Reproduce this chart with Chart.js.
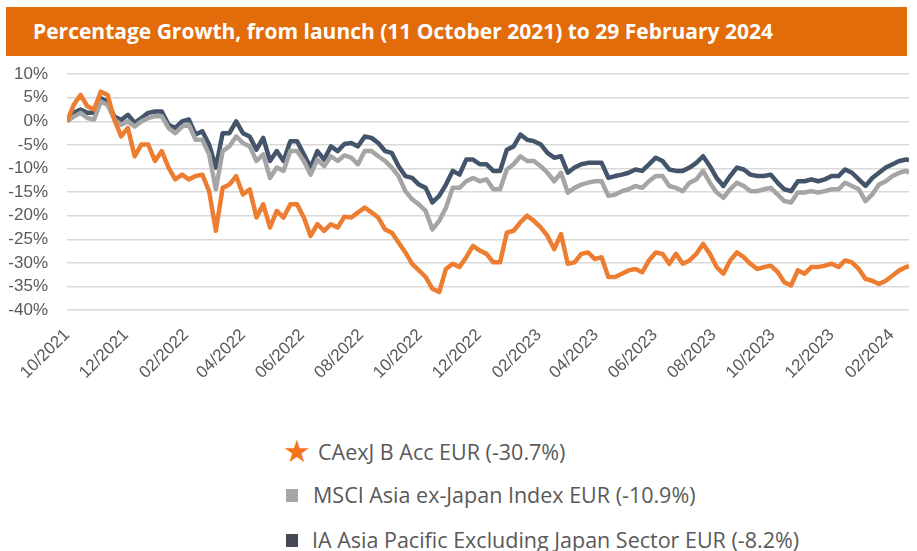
<!DOCTYPE html>
<html>
<head>
<meta charset="utf-8">
<script src="https://cdn.jsdelivr.net/npm/chart.js@4.4.1/dist/chart.umd.min.js"></script>
<style>
  body { margin: 0; background: #fff; width: 917px; height: 551px; position: relative; overflow: hidden; }
  #title {
    position: absolute; left: 6px; top: 7px; width: 901px; height: 49px;
    background: #E36C0A; color: #fff;
    font-family: "Open Sans", sans-serif; font-weight: 700; font-size: 21px;
    line-height: 48px; padding-left: 27px; box-sizing: border-box; white-space: nowrap;
  }
  #wrap { position: absolute; left: 0; top: 45px; width: 917px; height: 340px; }
  .leg {
    position: absolute; font-family: "Open Sans", sans-serif; font-size: 21.5px; color: #595959;
    white-space: nowrap; line-height: 28px;
  }
  .sq { position: absolute; width: 12px; height: 13px; }
  .star { position: absolute; color: #F5761A; font-size: 31px; line-height: 31px; }
</style>
</head>
<body>
<div id="title">Percentage Growth, from launch (11 October 2021) to 29 February 2024</div>
<div id="wrap"><canvas id="growthChart"></canvas></div>

<div class="star" style="left:283px; top:436px;">&#9733;</div>
<div class="leg" style="left:318px; top:438px;">CAexJ B Acc EUR (-30.7%)</div>
<div class="sq" style="left:286px; top:489px; background:#A6A6A6;"></div>
<div class="leg" style="left:313px; top:481px;">MSCI Asia ex-Japan Index EUR (-10.9%)</div>
<div class="sq" style="left:286px; top:534px; background:#454A54;"></div>
<div class="leg" style="left:312px; top:526px;">IA Asia Pacific Excluding Japan Sector EUR (-8.2%)</div>

<script>
// weekly readings from launch (11/10/2021), last point is 29/02/2024
const launch = Date.UTC(2021, 9, 11);
const lastDay = 871;

const fundValues = [
  0, 3.5, 5.6, 3.2, 2.5, 6.3, 5.6, 0.4, -3.2, -1.4,
  -7.4, -4.9, -4.9, -8.4, -6.3, -9.8, -12.3, -11.3, -12.3, -11.6,
  -11.3, -14.8, -23.2, -14.1, -13.4, -11.6, -15.5, -14.4, -20.4, -17.6,
  -22.5, -19, -20.4, -17.6, -17.6, -20.4, -24.3, -21.8, -23.2, -21.8,
  -22.5, -20.2, -20.4, -19.3, -18.3, -19.3, -20.4, -22.9, -23.6, -25.7,
  -27.8, -30.2, -31.6, -33, -35.5, -36.2, -31.3, -30.2, -30.9, -28.8,
  -26.4, -27.4, -28.1, -29.9, -29.9, -23.6, -23.2, -21.4, -20.0, -21.1,
  -22.5, -24.3, -27.1, -23.9, -30.2, -29.9, -28.1, -27.8, -29.2, -28.8,
  -33, -33, -32.3, -31.6, -31.3, -32, -29.5, -27.8, -28.1, -30.2,
  -28.1, -30.2, -29.5, -28.1, -26, -28.1, -30.9, -32.3, -29.5, -27.8,
  -28.8, -30.2, -31.3, -30.9, -30.6, -31.9, -34.1, -34.8, -31.6, -32.3,
  -30.9, -30.9, -30.6, -30.2, -30.9, -29.5, -29.9, -31.3, -33.4, -33.8,
  -34.5, -33.8, -32.7, -31.6, -30.9, -30.7
];

const msciValues = [
  0, 1.0, 1.8, 0.7, 0.4, 4.2, 3.5, 0.4, -0.7, 0,
  -1.1, 0, 0.7, 1.1, 1.1, -1.4, -2.5, -1.1, -0.7, -3.9,
  -3.9, -7, -14.4, -6.3, -5.3, -3.2, -4.6, -5.3, -8.4, -7,
  -12, -9.8, -10.5, -6.3, -6.3, -8.4, -11.3, -8.1, -9.5, -7.4,
  -8.4, -7.2, -7.7, -9.1, -6.3, -6.3, -7.4, -8.4, -9.8, -11.6,
  -14.8, -16.5, -17.6, -19, -22.9, -21.1, -18.3, -14.1, -14.1, -12.7,
  -12, -12.7, -12.3, -14.4, -14.4, -10.2, -9.1, -7.4, -8.4, -8.4,
  -9.5, -10.9, -12.7, -10.9, -15.1, -14.1, -13.4, -13, -12.7, -12.7,
  -15.8, -15.5, -14.8, -14.4, -13.7, -14.1, -12.7, -11.6, -11.6, -13.7,
  -14.1, -14.8, -13, -12.3, -10.5, -13, -15.1, -16.2, -14.4, -13,
  -13.7, -14.8, -14.8, -14.4, -14.1, -15.5, -16.9, -17.2, -15.1, -15.1,
  -14.8, -15.1, -14.8, -14.4, -14.4, -13, -13.7, -14.4, -16.9, -15.5,
  -13.4, -12.7, -11.6, -10.9, -10.5, -10.9
];

const sectorValues = [
  0, 1.8, 2.5, 1.8, 1.8, 4.9, 4.2, 1.0, 0.3, 1.4,
  -0.3, 0.7, 1.8, 2.1, 2.1, -0.7, -1.4, 0, 0.4, -2.8,
  -2.1, -4.9, -9.8, -2.5, -2.5, 0, -2.5, -3.2, -6, -3.5,
  -8.4, -6.3, -8.4, -4.2, -4.2, -7, -9.8, -6.3, -8.1, -5.3,
  -6.3, -4.8, -4.6, -5.3, -3.2, -3.5, -4.6, -6.3, -6.7, -9.5,
  -11.6, -12, -13.4, -14.1, -17.2, -15.8, -13.4, -10.5, -11.3, -8.1,
  -8.1, -9.1, -9.1, -10.5, -10.5, -6, -5.3, -2.8, -3.9, -4.2,
  -4.9, -6.7, -7.7, -7.4, -10.9, -9.8, -9.1, -8.8, -8.8, -8.8,
  -12, -11.6, -11.3, -10.9, -10.2, -10.5, -9.1, -7.7, -8.4, -10.2,
  -10.5, -10.5, -9.8, -8.8, -7.4, -9.5, -12, -13.7, -11.6, -9.8,
  -10.2, -11.3, -11.6, -11.6, -11.3, -13, -14.4, -14.8, -12.7, -12.7,
  -12.3, -12.7, -12.3, -11.6, -11.6, -10.2, -10.9, -12.3, -13.7, -12,
  -10.9, -9.8, -9.1, -8.4, -8.1, -8.2
];

const tickLabels = ['10/2021', '12/2021', '02/2022', '04/2022', '06/2022', '08/2022', '10/2022',
  '12/2022', '02/2023', '04/2023', '06/2023', '08/2023', '10/2023', '12/2023', '02/2024'];

const seriesNames = ['CAexJ B Acc EUR', 'MSCI Asia ex-Japan Index EUR', 'IA Asia Pacific Excluding Japan Sector EUR'];
const seriesColors = ['#ED7D31', '#A5A5A5', '#44546A'];

// day offsets of the samples and of the axis ticks (11th of every second month)
const days = fundValues.map((v, i) => i === fundValues.length - 1 ? lastDay : i * 7);
const tickDays = tickLabels.map(t => {
  const m = parseInt(t.slice(0, 2), 10) - 1;
  const y = parseInt(t.slice(3), 10);
  return Math.round((Date.UTC(y, m, 11) - launch) / 86400000);
});

function toPoints(values) {
  return values.map((v, i) => ({ x: days[i], y: v }));
}

const allValues = [fundValues, msciValues, sectorValues];

const ctx = document.getElementById('growthChart').getContext('2d');
new Chart(ctx, {
  type: 'line',
  data: {
    datasets: allValues.map((vals, i) => ({
      label: seriesNames[i],
      data: toPoints(vals),
      borderColor: seriesColors[i],
      backgroundColor: seriesColors[i],
      borderWidth: 4.5,
      pointRadius: 0,
      tension: 0,
      borderJoinStyle: 'round',
      fill: false
    }))
  },
  options: {
    responsive: true,
    maintainAspectRatio: false,
    animation: false,
    layout: { padding: { top: 13, right: 8, left: 0, bottom: 0 } },
    plugins: {
      legend: { display: false },
      tooltip: { enabled: false }
    },
    scales: {
      x: {
        type: 'linear',
        min: 0,
        max: lastDay,
        afterBuildTicks: function (scale) {
          scale.ticks = tickDays.map(d => ({ value: d }));
        },
        afterFit: function (scale) { scale.height = 75; },
        ticks: {
          autoSkip: false,
          minRotation: 45,
          maxRotation: 45,
          padding: 7,
          color: '#595959',
          font: { family: 'Liberation Sans', size: 17 },
          callback: function (value) {
            const i = tickDays.indexOf(value);
            return i >= 0 ? tickLabels[i] : '';
          }
        },
        grid: { display: false },
        border: { display: false }
      },
      y: {
        min: -40,
        max: 10,
        afterFit: function (scale) { scale.width = 67; },
        ticks: {
          stepSize: 5,
          autoSkip: false,
          padding: 19,
          color: '#595959',
          font: { family: 'Liberation Sans', size: 17 },
          callback: function (value) { return value + '%'; }
        },
        grid: { color: '#D9D9D9', lineWidth: 1.5, drawTicks: false },
        border: { display: false }
      }
    }
  }
});
</script>
</body>
</html>
